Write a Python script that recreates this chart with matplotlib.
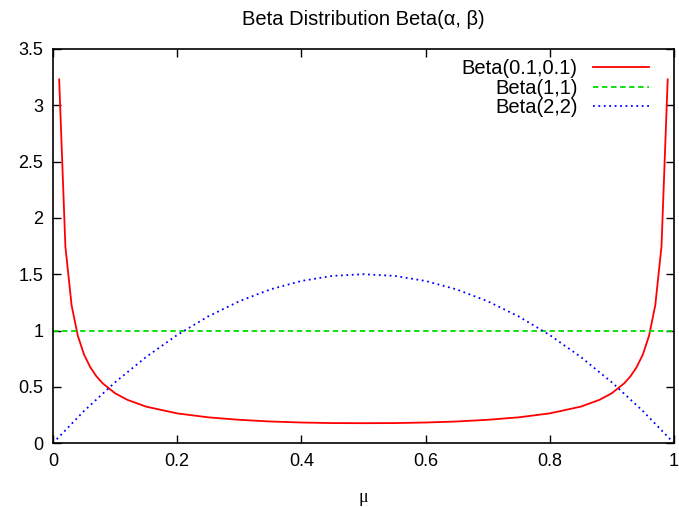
import matplotlib
matplotlib.use("Agg")
import matplotlib.pyplot as plt
from matplotlib.ticker import FormatStrFormatter

# values
mu_a = [0.01, 0.02, 0.03, 0.04, 0.05, 0.06, 0.07, 0.08, 0.10, 0.12, 0.15, 0.20,
        0.25, 0.30, 0.35, 0.40, 0.45, 0.50, 0.55, 0.60, 0.65, 0.70, 0.75, 0.80,
        0.85, 0.88, 0.90, 0.92, 0.93, 0.94, 0.95, 0.96, 0.97, 0.98, 0.99]
beta_a = [3.23, 1.746, 1.224, 0.954, 0.787, 0.675, 0.593, 0.531, 0.443, 0.384, 0.324, 0.264,
          0.229, 0.207, 0.192, 0.183, 0.178, 0.177, 0.178, 0.183, 0.192, 0.207, 0.229, 0.264,
          0.324, 0.384, 0.443, 0.531, 0.593, 0.675, 0.787, 0.954, 1.224, 1.746, 3.23]

mu_b = [0.0, 1.0]
beta_b = [1.0, 1.0]

mu_c = [0.0, 0.05, 0.10, 0.15, 0.20, 0.25, 0.30, 0.35, 0.40, 0.45, 0.50,
        0.55, 0.60, 0.65, 0.70, 0.75, 0.80, 0.85, 0.90, 0.95, 1.0]
beta_c = [0.0, 0.285, 0.54, 0.765, 0.96, 1.125, 1.26, 1.365, 1.44, 1.485, 1.5,
          1.485, 1.44, 1.365, 1.26, 1.125, 0.96, 0.765, 0.54, 0.285, 0.0]

labels = ["Beta(0.1,0.1)", "Beta(1,1)", "Beta(2,2)"]

plt.rcParams['font.family'] = ['Liberation Sans', 'DejaVu Sans']

fig = plt.figure(figsize=(6.79, 5.07), dpi=100)
ax = fig.add_axes([0.078, 0.126, 0.9145, 0.7774])

ax.plot(mu_a, beta_a, color='#ff0000', lw=1.3, label=labels[0])
ax.plot(mu_b, beta_b, color='#00dd00', lw=1.3, ls=(0, (3, 2)), label=labels[1])
ax.plot(mu_c, beta_c, color='#0000ff', lw=1.3, ls=(0, (1, 2)), label=labels[2])

ax.set_xlim(0, 1)
ax.set_ylim(0, 3.5)
ax.set_xticks([0, 0.2, 0.4, 0.6, 0.8, 1])
ax.set_yticks([0, 0.5, 1, 1.5, 2, 2.5, 3, 3.5])
ax.xaxis.set_major_formatter(FormatStrFormatter('%g'))
ax.yaxis.set_major_formatter(FormatStrFormatter('%g'))
ax.tick_params(direction='in', top=True, right=True, length=6, width=1,
               labelsize=13, pad=7)
for s in ax.spines.values():
    s.set_linewidth(1.2)

ax.set_title('Beta Distribution Beta(α, β)', fontsize=14.5, pad=17)
ax.set_xlabel('μ', fontsize=13, labelpad=14, family=['Liberation Serif'])

ax.legend(loc='upper right', frameon=False, markerfirst=False, fontsize=14.5,
          handlelength=2.8, handletextpad=0.75, labelspacing=0.03,
          borderaxespad=0.0, bbox_to_anchor=(0.973, 0.995))

plt.savefig('out.png', dpi=100)
